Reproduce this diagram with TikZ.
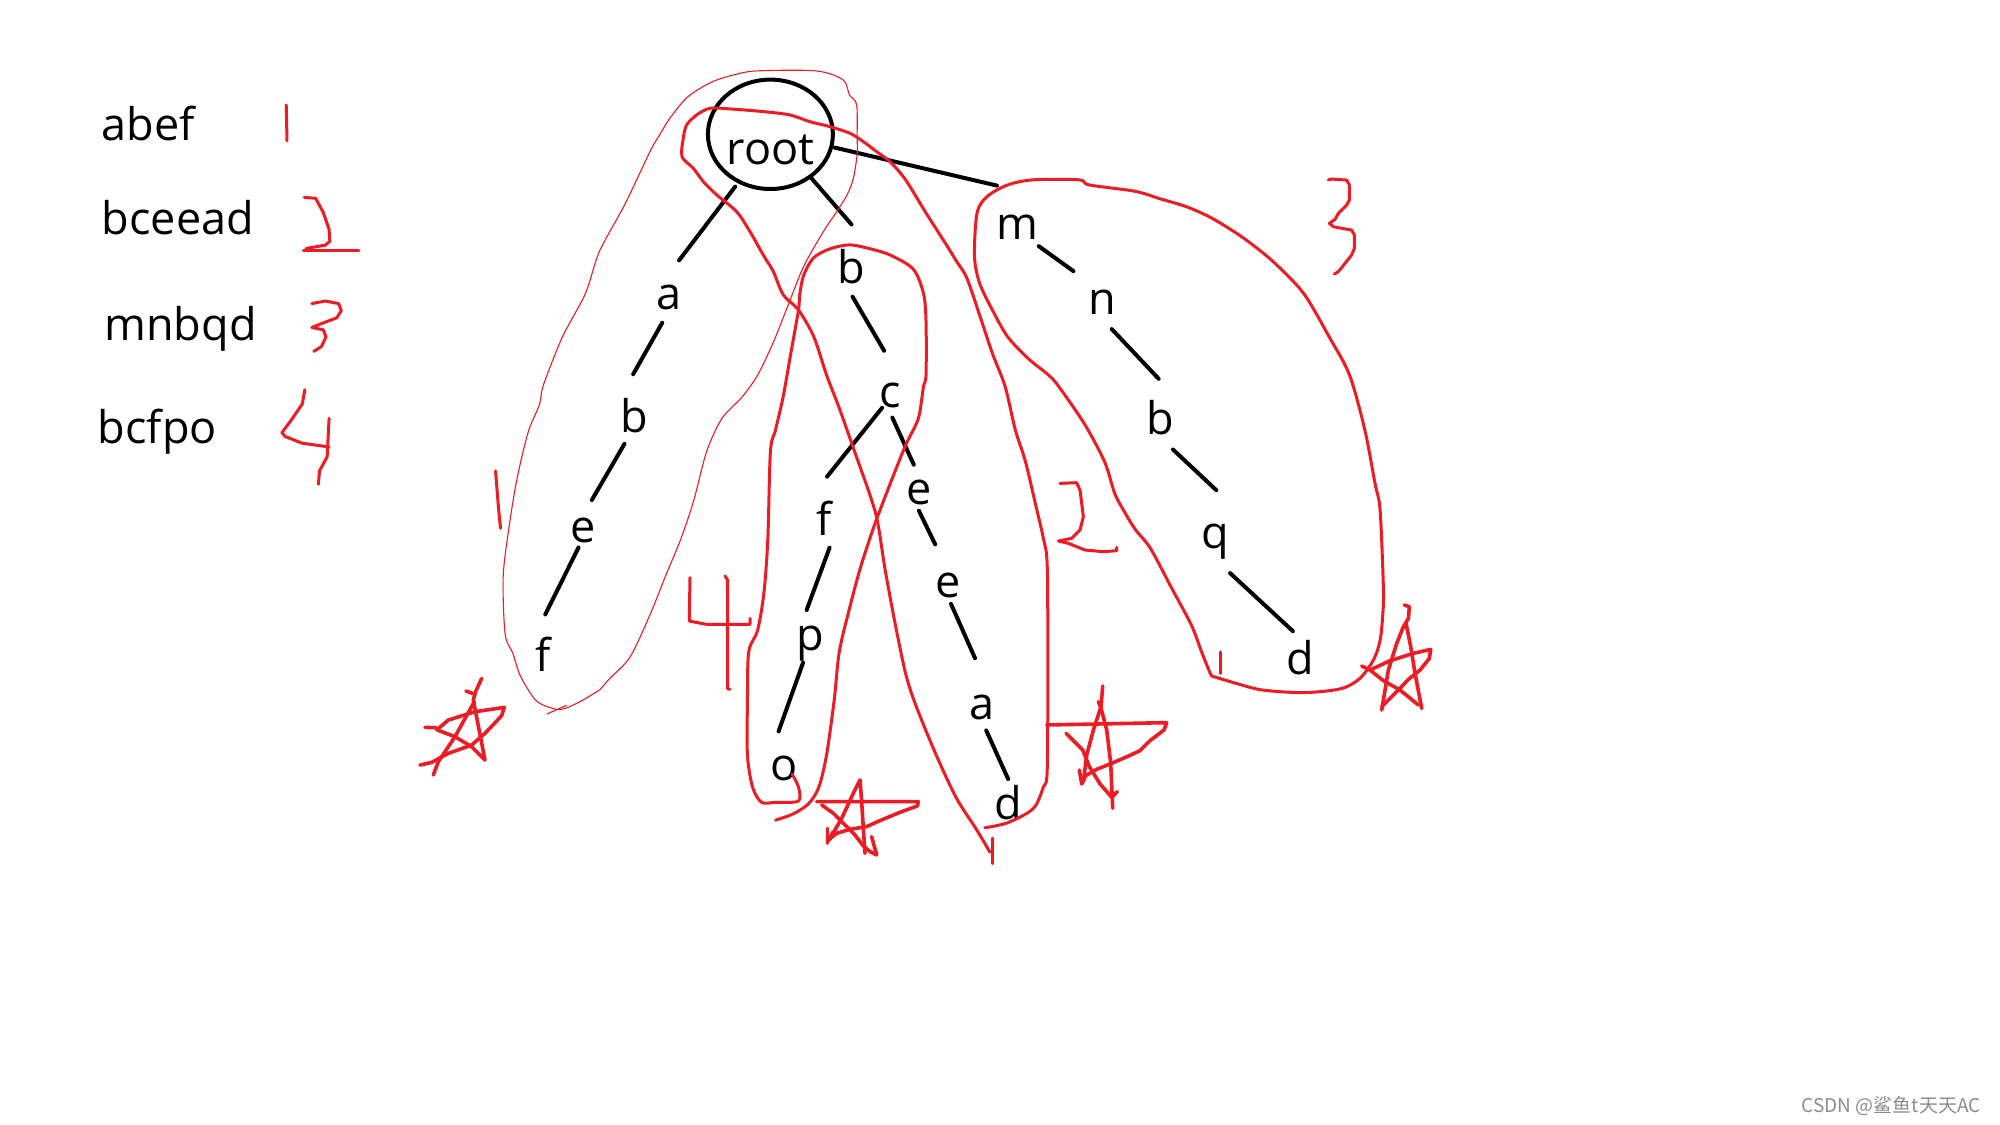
\documentclass[tikz,border=0pt]{standalone}
\usepackage{fontspec}
\setmainfont{Open Sans}
\newfontfamily\cjkfont{Noto Sans CJK SC}
\usetikzlibrary{shapes.geometric}
\definecolor{pen}{RGB}{237,28,36}
\definecolor{wm}{RGB}{140,140,140}
\begin{document}
\begin{tikzpicture}[x=0.6378pt,y=-0.6378pt,
  font=\fontsize{22.5}{27}\selectfont,
  lbl/.style={anchor=base,inner sep=0pt},
  lst/.style={anchor=base west,inner sep=0pt},
  edge/.style={line width=2pt,line cap=round},
  ink/.style={draw=pen,line width=1.5pt,line cap=round,line join=round},
  thinink/.style={draw=pen,line width=0.55pt,line cap=round,line join=round},
  starink/.style={draw=pen,line width=1.8pt,line cap=round,line join=round}]
\fill[white] (0,0) rectangle (1568,882);
\useasboundingbox (0,0) rectangle (1568,882);

% ---------- word list ----------
\node[lst] (w1) at (79.5,110.5) {abef};
\node[lst] (w2) at (79.5,183.6) {bceead};
\node[lst] (w3) at (81.6,267.2) {mnbqd};
\node[lst] (w4) at (76.5,347.5) {bcfpo};

% red numbers beside the list
\draw[ink] (224.4,82.3) -- (225,110.4);
\draw[ink] (238.5,154.7) -- (247.5,155.5) -- (253.5,166.7) -- (258,179.8) -- (258.6,189.2) -- (255,192.2) -- (240,194.8);
\draw[ink] (237.9,196.7) -- (281.4,196.7);
\draw[ink] (244.5,238) -- (255,236) -- (265.5,238) -- (267.6,243.6) -- (264,249.2) -- (252,253.7) -- (244.5,256.7) -- (253.5,258.6) -- (255.6,264.2) -- (252,271.7) -- (246,275.5);
\draw[ink] (239,305.5) -- (237,316.7) -- (228,329.8) -- (221,339.2) -- (223.5,342.2) -- (237,347.5) -- (258,350.4);
\draw[ink] (258,328) -- (256.5,358) -- (250.5,369.2) -- (249.6,379.7);

% ---------- tree ----------
\node[draw,ellipse,line width=2pt,minimum width=62.5pt,minimum height=54.7pt,inner sep=0pt] (root) at (604,105.3) {};
\node[lbl] (roottxt) at (604,128.8) {root};

\node[lbl] (a1) at (524.4,242.4) {a};
\node[lbl] (b1) at (497.2,338.8) {b};
\node[lbl] (e1) at (457.5,425.5) {e};
\node[lbl] (f1) at (426,526.7) {f};

\node[lbl] (b2) at (667.2,221.9) {b};
\node[lbl] (c2) at (697.6,319.7) {c};
\node[lbl] (f2) at (646.4,419.6) {f};
\node[lbl] (p2) at (635.6,510.1) {p};
\node[lbl] (o2) at (614.4,612.1) {o};
\node[lbl] (e3) at (720.4,395.4) {e};
\node[lbl] (e4) at (743.6,468.5) {e};
\node[lbl] (a4) at (769.6,564.1) {a};
\node[lbl] (d4) at (790.4,642.7) {d};

\node[lbl] (m5) at (797.6,188) {m};
\node[lbl] (n5) at (864.4,246.6) {n};
\node[lbl] (b5) at (909.6,341) {b};
\node[lbl] (q5) at (952.4,430.2) {q};
\node[lbl] (d5) at (1019.6,528.8) {d};

\draw[edge] ([shift={(-27.6,41)}]root.center) -- ([shift={(8,-38.3)}]a1.base);
\draw[edge] ([shift={(-5.2,10.6)}]a1.base) -- ([shift={(-0.8,-45.4)}]b1.base);
\draw[edge] ([shift={(-7.6,9.2)}]b1.base) -- ([shift={(6.5,-33.5)}]e1.base);
\draw[edge] ([shift={(-3.9,3.7)}]e1.base) -- ([shift={(1.5,-45)}]f1.base);

\draw[edge] ([shift={(32.4,34.7)}]root.center) -- ([shift={(0.4,-45.9)}]b2.base);
\draw[edge] ([shift={(1.2,10.7)}]b2.base) -- ([shift={(-4.4,-44.7)}]c2.base);
\draw[edge] ([shift={(-6,0)}]c2.base) -- ([shift={(2,-45.9)}]f2.base);
\draw[edge] ([shift={(2,7.7)}]c2.base) -- ([shift={(-4,-31.1)}]e3.base);
\draw[edge] ([shift={(0,5)}]e3.base) -- ([shift={(-10.4,-41.7)}]e4.base);
\draw[edge] ([shift={(2,5)}]e4.base) -- ([shift={(-5.2,-48.1)}]a4.base);
\draw[edge] ([shift={(3.6,8.5)}]a4.base) -- ([shift={(0,-31.9)}]d4.base);
\draw[edge] ([shift={(4,9.8)}]f2.base) -- ([shift={(-3.2,-31.9)}]p2.base);
\draw[edge] ([shift={(-6,9.4)}]p2.base) -- ([shift={(-4,-38.7)}]o2.base);

\draw[edge] ([shift={(50.4,10.4)}]root.center) -- ([shift={(-16,-42.5)}]m5.base);
\draw[edge] ([shift={(16.8,5)}]m5.base) -- ([shift={(-22.8,-34)}]n5.base);
\draw[edge] ([shift={(7.2,11.4)}]n5.base) -- ([shift={(-1.2,-44)}]b5.base);
\draw[edge] ([shift={(10,11.4)}]b5.base) -- ([shift={(1.2,-45.9)}]q5.base);
\draw[edge] ([shift={(12,19.1)}]q5.base) -- ([shift={(-6,-34)}]d5.base);

% ---------- loop 1 (thin) ----------
\draw[thinink] plot[smooth,tension=0.5] coordinates {(470.4,540.7) (478,532) (494,515) (510,481) (522,451) (534,422) (544,392) (554,354) (566,328) (582,311) (594,294) (606,269) (618,239) (630,209) (645.5,181.6) (656,166) (664,153) (669,140) (672,121) (672,108) (671.6,82) (666,74.5) (661,62.7) (640,55.6) (593,55.6) (575,58.8) (562,62.7) (551,68) (538,77) (525,93) (517,106) (510,118) (490,160) (470,197) (459,230) (441,264) (426,302) (423,317) (414,339) (405,377) (399,414) (394.5,452) (396,497) (402,512) (408,530) (420,549) (432,555) (441,556) (455,550) (470.4,540.7)};
\draw[thinink] (429,559.7) -- (444,553);
\draw[ink] (388.5,369.2) -- (390.9,399.2) -- (392.4,414.2);

% ---------- loop 2 ----------
\draw[ink] plot[smooth,tension=0.5] coordinates {(776,668) (766,651) (750,626) (734,592) (718,553) (710,528) (702,490) (694,447) (688,409) (682,388) (670,354) (658,320) (648,294) (638,264) (626,243) (614.1,231.2) (606.3,212.9) (598.4,199.9) (588,181.6) (577.5,165.9) (561.9,152.8) (551.4,142.4) (543.6,132) (534.7,122.8) (535.7,108.4) (538.3,98) (546.2,90.1) (556.6,84.9) (572.3,85.4) (598.4,87.5) (619.3,90.1) (635,95.4) (650.7,99.3) (666.4,104.5) (676.8,111) (687.3,118.9) (697.7,126.7) (710,141) (726,167) (742,192) (750,205) (758,218) (768,247) (778,277) (788,303) (796,337) (804,362) (812,396) (818,422) (821,443) (821.5,520) (821,604) (818,617) (810,634) (790,645) (772,649)};
\draw[ink] (778,657) -- (778,677);

% ---------- loop 4 ----------
\draw[ink] plot[smooth,tension=0.5] coordinates {(608,643) (622,638) (634,630) (642,617) (648,592) (654,549) (658,511) (666,477) (674,447) (682,422) (688,405) (698,379) (710,349) (720,328) (724,303) (726,294) (726,252) (724,230) (716,211) (698,200) (682,195) (666,192) (651,195) (638,202) (630,216) (627,231) (626,243) (620,277) (614,311) (608,337) (604,354) (602,422) (599,464) (594,494) (587,511) (586,549) (586,592) (590,617) (597,629) (608,629) (626,628) (626,617) (621,607)};

% ---------- loop 3 ----------
\draw[ink] plot[smooth,tension=0.5] coordinates {(950,530) (948,526) (942,511) (934,490) (918,460) (902,430) (890,415) (882,402) (874,387) (866,362) (850,332) (830,303) (822,294) (806,281) (790,264) (778,243) (768,222) (764,201) (766,167) (774,154) (790,145) (810,141) (846,141) (854,145) (890,150) (910,156) (930,162) (950,171) (974,186) (998,205) (1022,230) (1042,264) (1058,294) (1070,337) (1078,379) (1082,400) (1084.6,462) (1084,483) (1082,502) (1077,517) (1066,532) (1051,540) (1022,543) (990,541) (970,536) (950,530)};
\draw[ink] (957,511) -- (957,528);

% ---------- red numbers in the tree ----------
\begin{scope}[shift={(529.2,443)},scale=0.2613]
\draw[ink] (45,38) -- (43,150) -- (43,168) -- (95,178) -- (225,178) -- (225,160);
\draw[ink] (150,33) -- (158,45) -- (158,372) -- (165,372);
\end{scope}
\begin{scope}[shift={(819.3,368.5)},scale=0.2613]
\draw[ink] (45,40) -- (95,38) -- (105,60) -- (110,100) -- (115,140) -- (105,180) -- (80,205) -- (40,213) -- (70,220) -- (120,240) -- (175,245) -- (215,242) -- (215,232);
\end{scope}
\begin{scope}[shift={(1015.3,133.3)},scale=0.2613]
\draw[ink] (100,30) -- (108,27) -- (155,30) -- (163,45) -- (163,90) -- (155,105) -- (130,130) -- (120,148) -- (103,160) -- (115,170) -- (140,175) -- (170,180) -- (178,195) -- (178,235) -- (170,255) -- (150,280) -- (130,305) -- (118,312);
\end{scope}

% ---------- stars ----------
\begin{scope}[shift={(317.5,521.4)},scale=0.2613]
\draw[starink] (230,40) -- (212,80) -- (205,105) -- (240,285) -- (200,245) -- (150,215) -- (100,196) -- (92,188) -- (60,187);
\draw[starink] (183,78) -- (205,86);
\draw[starink] (208,110) -- (150,215) -- (100,290) -- (85,330);
\draw[starink] (95,195) -- (130,165) -- (210,140) -- (298,127) -- (290,152) -- (240,205) -- (200,240) -- (130,265) -- (80,292) -- (45,300);
\end{scope}
\begin{scope}[shift={(627.2,595.8)},scale=0.2613]
\draw[starink] (50,125) -- (355,125) -- (352,138) -- (300,157) -- (240,182) -- (200,200) -- (150,208) -- (110,220) -- (85,240);
\draw[starink] (82,250) -- (82,205);
\draw[starink] (82,245) -- (100,215);
\draw[starink] (88,240) -- (125,175) -- (160,100) -- (180,60) -- (185,125) -- (190,205) -- (195,280);
\draw[starink] (65,135) -- (100,160) -- (135,195) -- (165,225) -- (190,258) -- (210,275) -- (230,285) -- (215,230);
\end{scope}
\begin{scope}[shift={(815.4,533.1)},scale=0.2613]
\draw[starink] (20,135) -- (380,128) -- (372,150) -- (330,182) -- (300,212) -- (250,235) -- (210,252) -- (170,268) -- (135,288) -- (125,302);
\draw[starink] (118,270) -- (125,312) -- (135,292);
\draw[starink] (78,160) -- (128,210) -- (148,260) -- (180,312) -- (215,352) -- (232,335);
\draw[starink] (188,18) -- (183,80) -- (160,150) -- (140,225) -- (130,305);
\draw[starink] (175,65) -- (183,85) -- (200,150) -- (212,250) -- (218,385);
\end{scope}
\begin{scope}[shift={(1050.6,462.6)},scale=0.2613]
\draw[starink] (65,228) -- (90,240) -- (150,212) -- (220,190) -- (272,178) -- (268,205) -- (240,240) -- (205,268) -- (175,300) -- (125,350);
\draw[starink] (90,240) -- (130,272) -- (180,300) -- (235,345);
\draw[starink] (193,45) -- (208,50) -- (205,85) -- (190,110) -- (170,160) -- (145,240) -- (125,360);
\draw[starink] (198,100) -- (212,170) -- (225,250) -- (245,355);
\end{scope}

% ---------- watermark ----------
\node[anchor=east,inner sep=0pt,text=wm,font=\cjkfont\fontsize{9.5}{11}\selectfont] (wmark) at (1553,867) {CSDN @鲨鱼t天天AC};
\end{tikzpicture}
\end{document}
